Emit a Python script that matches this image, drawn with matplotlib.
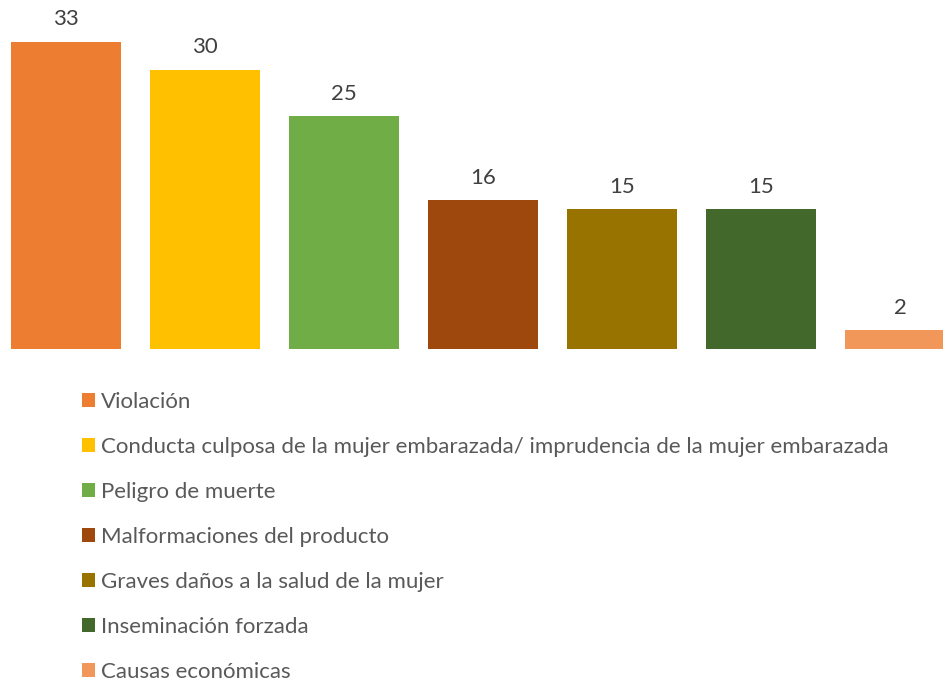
import matplotlib.pyplot as plt
from matplotlib.patches import Patch

plt.rcParams['font.family'] = ['Lato', 'DejaVu Sans']

categories = ["Violación",
              "Conducta culposa de la mujer embarazada/ imprudencia de la mujer embarazada",
              "Peligro de muerte",
              "Malformaciones del producto",
              "Graves daños a la salud de la mujer",
              "Inseminación forzada",
              "Causas económicas"]
values = [33, 30, 25, 16, 15, 15, 2]
colors = ["#ED7D31", "#FFC000", "#70AD47", "#9E480E", "#997300", "#43682B", "#F1975A"]

fig = plt.figure(figsize=(9.43, 6.81), dpi=100)
ax = fig.add_axes([0, 0.4875, 1, 0.5125])

x = list(range(len(values)))
bars = ax.bar(x, values, width=0.79, color=colors)
ax.bar_label(bars, padding=9, fontsize=16, color="#404040")

ax.set_xlim(-0.475, 6.309)
ax.set_ylim(0, 37.5)
ax.axis("off")

# legend
handles = [Patch(facecolor=c, edgecolor="none") for c in colors]
fig.legend(handles, categories, loc="upper left", bbox_to_anchor=(0.087, 0.425),
           frameon=False, fontsize=16, labelcolor="#595959",
           handlelength=0.6, handleheight=0.6, handletextpad=0.27,
           labelspacing=1.125, borderpad=0, borderaxespad=0)

fig.savefig("out.png", dpi=100)
